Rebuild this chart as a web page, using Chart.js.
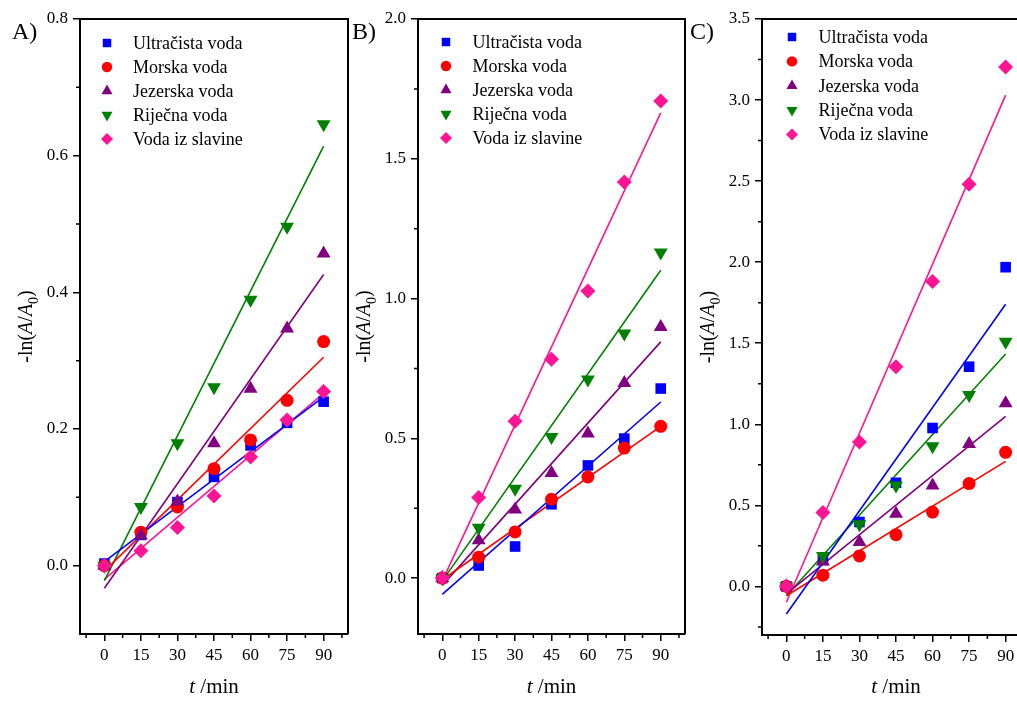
<!DOCTYPE html>
<html>
<head>
<meta charset="utf-8">
<script src="https://cdn.jsdelivr.net/npm/chart.js@4.4.0/dist/chart.umd.min.js"></script>
<style>
  html, body { margin: 0; padding: 0; background: #fff; overflow: hidden; }
  #wrap { position: relative; width: 1017px; height: 701px; overflow: hidden; }
  canvas { position: absolute; top: 0; }
</style>
</head>
<body>
<div id="wrap">
  <canvas id="chartA" width="358" height="701" style="left:0px"></canvas>
  <canvas id="chartB" width="350" height="701" style="left:345px"></canvas>
  <canvas id="chartC" width="355" height="701" style="left:685px"></canvas>
</div>
<script>
// vrijeme uzorkovanja (min)
const times = [0, 15, 30, 45, 60, 75, 90];
const names = ['Ultračista voda', 'Morska voda', 'Jezerska voda', 'Riječna voda', 'Voda iz slavine'];
const xTicks = [0, 15, 30, 45, 60, 75, 90];
const xMinor = [-7.5, 7.5, 22.5, 37.5, 52.5, 67.5, 82.5, 97.5];

// A)
const ultraA    = [0.003, 0.045, 0.093, 0.130, 0.176, 0.209, 0.240];
const morskaA   = [0, 0.049, 0.086, 0.142, 0.184, 0.242, 0.328];
const jezerskaA = [0, 0.044, 0.094, 0.179, 0.259, 0.347, 0.457];
const rijecnaA  = [0, 0.086, 0.179, 0.261, 0.389, 0.496, 0.646];
const slavinaA  = [0, 0.022, 0.056, 0.102, 0.159, 0.213, 0.255];
// pravac: vrijednost kod t=0 i t=90
const fitA = [[0.006, 0.247], [-0.008, 0.305], [-0.033, 0.426], [-0.022, 0.614], [-0.020, 0.252]];
const yTicksA = [0, 0.2, 0.4, 0.6, 0.8];
const yMinorA = [0.1, 0.3, 0.5, 0.7];

// B)
const ultraB    = [0, 0.045, 0.113, 0.264, 0.403, 0.499, 0.678];
const morskaB   = [0, 0.075, 0.165, 0.282, 0.362, 0.465, 0.543];
const jezerskaB = [0, 0.135, 0.245, 0.376, 0.517, 0.698, 0.898];
const rijecnaB  = [0, 0.180, 0.320, 0.505, 0.710, 0.875, 1.165];
const slavinaB  = [0, 0.288, 0.561, 0.783, 1.027, 1.417, 1.707];
const fitB = [[-0.058, 0.630], [-0.006, 0.543], [-0.026, 0.845], [-0.010, 1.101], [-0.010, 1.664]];
const yTicksB = [0, 0.5, 1.0, 1.5, 2.0];
const yMinorB = [0.25, 0.75, 1.25, 1.75];

// C)
const ultraC    = [0, 0.163, 0.397, 0.639, 0.977, 1.355, 1.969];
const morskaC   = [0, 0.069, 0.188, 0.319, 0.458, 0.634, 0.827];
const jezerskaC = [0, 0.153, 0.274, 0.448, 0.622, 0.878, 1.130];
const rijecnaC  = [0, 0.188, 0.383, 0.622, 0.864, 1.181, 1.509];
const slavinaC  = [0, 0.455, 0.890, 1.355, 1.881, 2.480, 3.204];
const fitC = [[-0.170, 1.740], [-0.058, 0.771], [-0.047, 1.048], [-0.058, 1.433], [-0.098, 3.030]];
const yTicksC = [0, 0.5, 1.0, 1.5, 2.0, 2.5, 3.0, 3.5];
const yMinorC = [-0.25, 0.25, 0.75, 1.25, 1.75, 2.25, 2.75, 3.25];

const colors = ['#0000ff', '#ff0000', '#800080', '#008000', '#ff1493'];
const shapes = ['rect', 'circle', 'triangle', 'triangle', 'rectRot'];
const rots = [0, 0, 0, 180, 0];
const radii = [7.5, 6.5, 8, 8, 7.5];
const serif = '"Liberation Serif", "Times New Roman", serif';

Chart.defaults.color = '#000';
Chart.defaults.font.family = serif;

function marker(ctx, i, x, y, scale) {
  ctx.save();
  ctx.fillStyle = colors[i];
  ctx.strokeStyle = colors[i];
  if (Chart.helpers && Chart.helpers.drawPoint) {
    Chart.helpers.drawPoint(ctx, {pointStyle: shapes[i], radius: radii[i] * scale, rotation: rots[i], borderWidth: 0}, x, y);
  } else {
    ctx.beginPath();
    ctx.arc(x, y, radii[i] * scale, 0, Math.PI * 2);
    ctx.fill();
  }
  ctx.restore();
}

// tekst iz dijelova (kurziv, indeks)
function drawParts(ctx, parts, x, y, size) {
  let w = 0;
  parts.forEach(p => {
    ctx.font = (p[1] === 'i' ? 'italic ' : '') + (p[1] === 's' ? size * 0.7 : size) + 'px ' + serif;
    w += ctx.measureText(p[0]).width;
  });
  let cx = x - w / 2;
  parts.forEach(p => {
    ctx.font = (p[1] === 'i' ? 'italic ' : '') + (p[1] === 's' ? size * 0.7 : size) + 'px ' + serif;
    ctx.fillText(p[0], cx, p[1] === 's' ? y + size * 0.28 : y);
    cx += ctx.measureText(p[0]).width;
  });
}

function makePanel(id, p) {
  const datasets = [];
  p.values.forEach((vals, i) => {
    datasets.push({
      label: names[i] + ' fit',
      data: [{x: times[0], y: p.fit[i][0]}, {x: times[times.length - 1], y: p.fit[i][1]}],
      showLine: true,
      borderColor: colors[i],
      borderWidth: 1.6,
      pointRadius: 0,
      order: 10 + i
    });
    datasets.push({
      label: names[i],
      data: times.map((t, j) => ({x: t, y: vals[j]})),
      showLine: false,
      pointStyle: shapes[i],
      pointRotation: rots[i],
      pointRadius: radii[i],
      pointBackgroundColor: colors[i],
      pointBorderColor: colors[i],
      pointBorderWidth: 0,
      order: 4 - i
    });
  });

  const decor = {
    id: 'decor' + id,
    afterDraw(chart) {
      const ctx = chart.ctx;
      const a = chart.chartArea;
      const xs = chart.scales.x, ys = chart.scales.y;
      ctx.save();
      ctx.strokeStyle = '#000';
      ctx.lineWidth = 2;
      ctx.beginPath();
      ctx.moveTo(a.left, a.top);
      ctx.lineTo(a.right, a.top);
      ctx.lineTo(a.right, a.bottom);
      ctx.stroke();
      ctx.lineWidth = 1.5;
      ctx.beginPath();
      xMinor.forEach(v => {
        const px = xs.getPixelForValue(v);
        if (px > a.left + 1 && px < a.right - 1) { ctx.moveTo(px, a.bottom); ctx.lineTo(px, a.bottom + 4); }
      });
      p.yMinor.forEach(v => {
        const py = ys.getPixelForValue(v);
        if (py > a.top + 1 && py < a.bottom - 1) { ctx.moveTo(a.left, py); ctx.lineTo(a.left - 4, py); }
      });
      ctx.stroke();

      // legenda
      ctx.textBaseline = 'middle';
      names.forEach((n, i) => {
        const y = a.top + p.legY + i * p.legStep;
        marker(ctx, i, a.left + p.legX, y, 0.8);
        ctx.fillStyle = '#000';
        ctx.font = '18px ' + serif;
        ctx.fillText(n, a.left + p.legTextX, y + 1);
      });

      ctx.textBaseline = 'alphabetic';
      ctx.fillStyle = '#000';
      // oznaka panela
      ctx.font = '24px ' + serif;
      ctx.fillText(p.letter, a.left + p.letterX, 39);
      // naslov osi x
      drawParts(ctx, [['t', 'i'], [' /min', 'n']], (a.left + a.right) / 2, 693, 21);
      // naslov osi y
      ctx.translate(a.left - 55, (a.top + a.bottom) / 2);
      ctx.rotate(-Math.PI / 2);
      drawParts(ctx, [['-ln(', 'n'], ['A', 'i'], ['/', 'n'], ['A', 'i'], ['0', 's'], [')', 'n']], 0, 7, 20);
      ctx.restore();
    }
  };

  return new Chart(document.getElementById(id), {
    type: 'scatter',
    data: {datasets},
    options: {
      responsive: false,
      animation: false,
      layout: {padding: {top: 19, right: 10, left: 0, bottom: 0}},
      plugins: {legend: {display: false}, tooltip: {enabled: false}},
      scales: {
        x: {
          type: 'linear', min: -10, max: 100,
          afterBuildTicks: s => { s.ticks = xTicks.map(v => ({value: v})); },
          afterFit: s => { s.height = 701 - p.bottom; },
          ticks: {callback: v => String(v), font: {size: 17}, padding: 4, maxRotation: 0, autoSkip: false},
          grid: {drawOnChartArea: false, tickLength: 7, color: '#000', lineWidth: 1.5},
          border: {color: '#000', width: 2}
        },
        y: {
          type: 'linear', min: p.yMin, max: p.yMax,
          afterBuildTicks: s => { s.ticks = p.yTicks.map(v => ({value: v})); },
          afterFit: s => { s.width = p.yWidth; },
          ticks: {callback: v => v.toFixed(1), font: {size: 17}, padding: 5, autoSkip: false},
          grid: {drawOnChartArea: false, tickLength: 7, color: '#000', lineWidth: 1.5},
          border: {color: '#000', width: 2}
        }
      }
    },
    plugins: [decor]
  });
}

makePanel('chartA', {
  values: [ultraA, morskaA, jezerskaA, rijecnaA, slavinaA], fit: fitA,
  yTicks: yTicksA, yMinor: yMinorA, yMin: -0.1, yMax: 0.8,
  yWidth: 80, bottom: 634,
  letter: 'A)', letterX: -68, legX: 27, legTextX: 53, legY: 24, legStep: 24
});
makePanel('chartB', {
  values: [ultraB, morskaB, jezerskaB, rijecnaB, slavinaB], fit: fitB,
  yTicks: yTicksB, yMinor: yMinorB, yMin: -0.2, yMax: 2.0,
  yWidth: 73, bottom: 634,
  letter: 'B)', letterX: -66, legX: 28, legTextX: 54.5, legY: 23, legStep: 24
});
makePanel('chartC', {
  values: [ultraC, morskaC, jezerskaC, rijecnaC, slavinaC], fit: fitC,
  yTicks: yTicksC, yMinor: yMinorC, yMin: -0.3, yMax: 3.5,
  yWidth: 77, bottom: 635,
  letter: 'C)', letterX: -72, legX: 30, legTextX: 56.5, legY: 18, legStep: 24.4
});
</script>
</body>
</html>
